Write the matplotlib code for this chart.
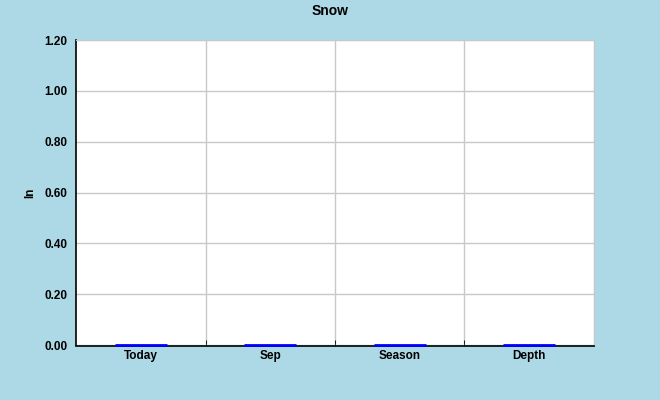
import matplotlib.pyplot as plt
import numpy as np

categories = ['Today', 'Sep', 'Season', 'Depth']
snow = [0.0, 0.0, 0.0, 0.0]
yticks = [0.0, 0.2, 0.4, 0.6, 0.8, 1.0, 1.2]

plt.rcParams['font.family'] = ['Liberation Sans', 'DejaVu Sans']
plt.rcParams['font.weight'] = 'bold'

bg = '#add8e6'
fig = plt.figure(figsize=(6.6, 4.0), dpi=100, facecolor=bg)
ax = fig.add_axes([76 / 660, 55 / 400, 518 / 660, 305 / 400])

# spine moves first, it resets the ticks
ax.spines['bottom'].set_position(('outward', 1))
ax.spines['left'].set_color('black')
ax.spines['bottom'].set_color('black')
ax.spines['top'].set_color('#c8c8c8')
ax.spines['right'].set_color('#c8c8c8')
ax.spines['left'].set_linewidth(1.2)
ax.spines['bottom'].set_linewidth(1.2)

x = np.arange(len(categories))
ax.bar(x, snow, width=0.4, color='blue', edgecolor='blue', linewidth=2,
       zorder=4, clip_on=False)

ax.set_xlim(-0.5, len(categories) - 0.5)
ax.set_ylim(0, 1.2)
ax.set_yticks(yticks)
ax.set_yticklabels(['%.2f' % v for v in yticks])
ax.set_xticks(x)
ax.set_xticklabels(categories)
ax.set_xticks(np.arange(len(categories)) + 0.5, minor=True)
ax.tick_params(axis='x', which='major', length=0, pad=2.5, labelsize=8.5)
ax.tick_params(axis='x', which='minor', length=4, direction='in', color='black')
ax.tick_params(axis='y', length=0, pad=6, labelsize=8.5)

ax.grid(axis='y', color='#c8c8c8', linewidth=1, zorder=0)
ax.grid(axis='x', which='minor', color='#c8c8c8', linewidth=1, zorder=0)
ax.set_axisbelow(True)

ax.set_ylabel('In', fontsize=8.5, fontweight='bold', labelpad=6)
fig.suptitle('Snow', fontsize=10, fontweight='bold', y=0.99)

plt.savefig('out.png', dpi=100, facecolor=bg)
